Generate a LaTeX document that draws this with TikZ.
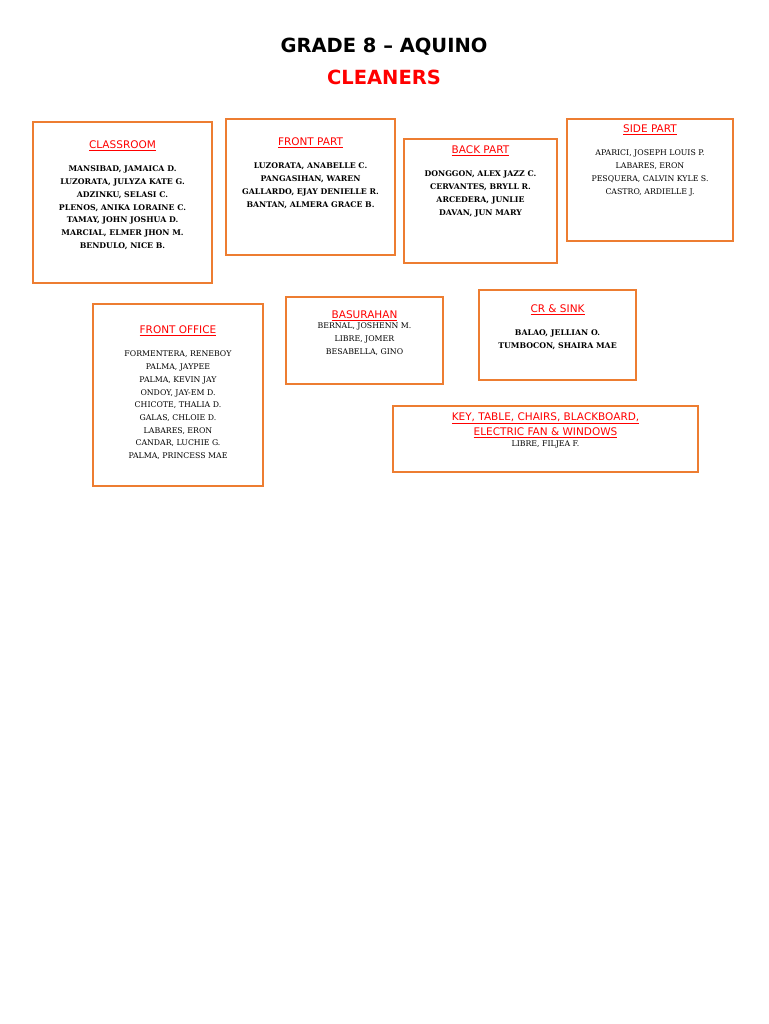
\documentclass[tikz,border=0pt]{standalone}
\usepackage{fontspec}
\setmainfont{DejaVu Serif}
\setsansfont{DejaVu Sans}
\begin{document}
\begin{tikzpicture}[x=1pt,y=-1pt]
\definecolor{borange}{RGB}{237,125,49}
\definecolor{hred}{RGB}{255,0,0}
\tikzset{
  cbox/.style={draw=borange,line width=1.6pt},
  head/.style={anchor=center,text=hred,font=\sffamily\fontsize{10.5}{13}\selectfont,align=center,inner sep=0},
  names/.style={anchor=north,font=\fontsize{7.8}{12.7}\selectfont,align=center,inner sep=0},
  bnames/.style={names,font=\bfseries\fontsize{7.8}{12.7}\selectfont}
}
\useasboundingbox[fill=white] (0,0) rectangle (768,1024);
\node[font=\sffamily\bfseries\fontsize{19.5}{24}\selectfont] (t1) at (384,47) {GRADE 8 – AQUINO};
\node[font=\sffamily\bfseries\fontsize{19.5}{24}\selectfont,text=hred] (t2) at (384,77) {CLEANERS};

\draw[cbox] (33,122) rectangle (212,283);
\node[head] (h1) at (122.5,146) {\underline{CLASSROOM}};
\node[bnames] (n1) at (122.5,166) {MANSIBAD, JAMAICA D.\\LUZORATA, JULYZA KATE G.\\ADZINKU, SELASI C.\\PLENOS, ANIKA LORAINE C.\\TAMAY, JOHN JOSHUA D.\\MARCIAL, ELMER JHON M.\\BENDULO, NICE B.};

\draw[cbox] (226,119) rectangle (395,255);
\node[head] (h2) at (310.5,143) {\underline{FRONT PART}};
\node[bnames] (n2) at (310.5,163) {LUZORATA, ANABELLE C.\\PANGASIHAN, WAREN\\GALLARDO, EJAY DENIELLE R.\\BANTAN, ALMERA GRACE B.};

\draw[cbox] (404,139) rectangle (557,263);
\node[head] (h3) at (480.5,151) {\underline{BACK PART}};
\node[bnames] (n3) at (480.5,171) {DONGGON, ALEX JAZZ C.\\CERVANTES, BRYLL R.\\ARCEDERA, JUNLIE\\DAVAN, JUN MARY};

\draw[cbox] (567,119) rectangle (733,241);
\node[head] (h4) at (650,130) {\underline{SIDE PART}};
\node[names] (n4) at (650,150) {APARICI, JOSEPH LOUIS P.\\LABARES, ERON\\PESQUERA, CALVIN KYLE S.\\CASTRO, ARDIELLE J.};

\draw[cbox] (93,304) rectangle (263,486);
\node[head] (h5) at (178,331) {\underline{FRONT OFFICE}};
\node[names] (n5) at (178,351) {FORMENTERA, RENEBOY\\PALMA, JAYPEE\\PALMA, KEVIN JAY\\ONDOY, JAY-EM D.\\CHICOTE, THALIA D.\\GALAS, CHLOIE D.\\LABARES, ERON\\CANDAR, LUCHIE G.\\PALMA, PRINCESS MAE};

\draw[cbox] (286,297) rectangle (443,384);
\node[head] (h6) at (364.5,316) {\underline{BASURAHAN}};
\node[names] (n6) at (364.5,323) {BERNAL, JOSHENN M.\\LIBRE, JOMER\\BESABELLA, GINO};

\draw[cbox] (479,290) rectangle (636,380);
\node[head] (h7) at (557.5,310) {\underline{CR \& SINK}};
\node[bnames] (n7) at (557.5,330) {BALAO, JELLIAN O.\\TUMBOCON, SHAIRA MAE};

\draw[cbox] (393,406) rectangle (698,472);
\node[head,font=\sffamily\fontsize{10.5}{15}\selectfont] (h8) at (545.5,425) {\underline{KEY, TABLE, CHAIRS, BLACKBOARD,}\\\underline{ELECTRIC FAN \& WINDOWS}};
\node[names] (n8) at (545.5,441) {LIBRE, FILJEA F.};
\end{tikzpicture}
\end{document}
